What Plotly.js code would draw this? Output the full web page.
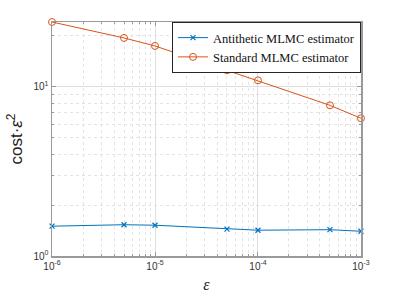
<!DOCTYPE html>
<html>
<head>
<meta charset="utf-8">
<script src="https://cdn.plot.ly/plotly-3.0.1.min.js"></script>
<style>html,body{margin:0;padding:0;background:#fff;}#chart{width:399px;height:299px;}</style>
</head>
<body>
<div id="chart"></div>
<script>
const epsilon = [1e-6, 5e-6, 1e-5, 5e-5, 1e-4, 5e-4, 1e-3];
const antithetic = [1.50, 1.53, 1.52, 1.44, 1.42, 1.43, 1.40];
const standard = [24.1, 19.4, 17.4, 12.5, 10.9, 7.76, 6.51];
const seriesNames = ['Antithetic MLMC estimator', 'Standard MLMC estimator'];
const xTickVals = [1e-6, 1e-5, 1e-4, 1e-3];
const xTickText = ['10<sup>-6</sup>', '10<sup>-5</sup>', '10<sup>-4</sup>', '10<sup>-3</sup>'];
const yTickVals = [1, 10];
const yTickText = ['10<sup>0</sup>', '10<sup>1</sup>'];

const traces = [
  {x: epsilon, y: antithetic, name: seriesNames[0], type: 'scatter', mode: 'lines+markers',
   line: {color: '#0072BD', width: 1}, marker: {symbol: 'x-thin', size: 5, color: '#0072BD', line: {color: '#0072BD', width: 1.2}}, cliponaxis: false},
  {x: epsilon, y: standard, name: seriesNames[1], type: 'scatter', mode: 'lines+markers',
   line: {color: '#D95319', width: 1}, marker: {symbol: 'circle-open', size: 7, color: '#D95319', line: {color: '#D95319', width: 1}}, cliponaxis: false}
];

const axisCommon = {
  type: 'log', showline: true, mirror: 'ticks', linecolor: '#9a9a9a', linewidth: 1.5,
  ticks: 'inside', ticklen: 4, tickcolor: '#9a9a9a', tickmode: 'array',
  showgrid: true, gridcolor: '#e0e0e0', gridwidth: 1, zeroline: false,
  tickfont: {family: 'Liberation Sans, Arial, sans-serif', size: 10, color: '#333'},
  minor: {ticks: 'inside', ticklen: 2, tickcolor: '#9a9a9a', showgrid: true, gridcolor: '#e4e4e4', griddash: 'dot', gridwidth: 1, dtick: 'D1'}
};

const layout = {
  width: 399, height: 299,
  margin: {l: 52, r: 38, t: 22, b: 43},
  paper_bgcolor: '#fff', plot_bgcolor: '#fff',
  showlegend: true,
  legend: {x: 1, xanchor: 'right', y: 1, yanchor: 'top', bgcolor: '#fff', bordercolor: '#262626', borderwidth: 1,
           font: {family: 'Liberation Serif, Times New Roman, serif', size: 12.5, color: '#111'}, tracegroupgap: 0, itemwidth: 30},
  xaxis: Object.assign({}, axisCommon, {range: [-6.0003, -2.9997], tickvals: xTickVals, ticktext: xTickText,
    title: {text: '<i>ε</i>', font: {family: 'Liberation Serif, serif', size: 16, color: '#222'}, standoff: 8}}),
  yaxis: Object.assign({}, axisCommon, {range: [0, Math.log10(24.1)], tickvals: yTickVals, ticktext: yTickText,
    title: {text: 'cost·<i>ε</i><sup>2</sup>', font: {family: 'Liberation Sans, Arial, sans-serif', size: 17, color: '#222'}, standoff: 6}})
};

Plotly.newPlot('chart', traces, layout, {staticPlot: true, displayModeBar: false});
</script>
</body>
</html>
